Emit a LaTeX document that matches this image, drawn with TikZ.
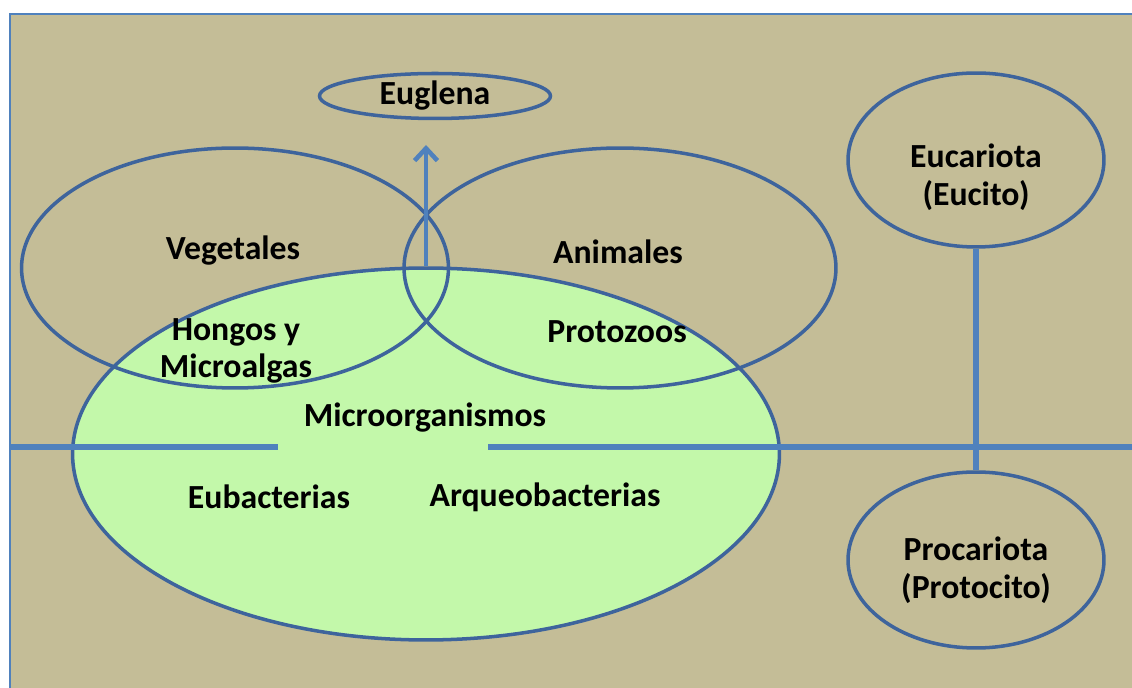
\documentclass[tikz,border=0pt]{standalone}
\usepackage{fontspec}
\setmainfont{Carlito}
\usetikzlibrary{shapes.geometric, arrows.meta, positioning}
\definecolor{paperTan}{HTML}{C4BD97}
\definecolor{lineBlue}{HTML}{4F81BD}
\definecolor{rimBlue}{HTML}{3E649C}
\definecolor{microGreen}{RGB}{195,248,170}
\tikzset{
	blob/.style={
		ellipse,
		draw=rimBlue,
		line width=2pt,
		inner sep=0pt,
	},
	tag/.style={
		font=\bfseries\fontsize{19.2}{21.5}\selectfont,
		align=center,
		inner sep=0pt,
	},
	divide/.style={
		draw=lineBlue,
		line width=3pt,
	},
	riseline/.style={
		-{Straight Barb[length=7pt,width=13pt]},
		draw=lineBlue,
		line width=2.6pt,
	}
}

\begin{document}
\begin{tikzpicture}[x=0.02cm, y=-0.02cm]
	\useasboundingbox (0,0) rectangle (1132,688);
	\clip (0,0) rectangle (1132,688);
	% --- Frame ---
	\draw[draw=lineBlue, line width=1.6pt, fill=paperTan] (10,14) rectangle (1150,710);
	
	% --- Ellipses (green one first, so the outlines lie on top) ---
	\node[blob, fill=microGreen, minimum width=14.14cm, minimum height=7.44cm] (micro) at (426,454) {};
	\node[blob, minimum width=8.54cm, minimum height=4.8cm] (veg) at (235,268) {};
	\node[blob, minimum width=8.64cm, minimum height=4.8cm] (ani) at (620,268) {};
	\node[blob, tag, minimum width=4.62cm, minimum height=0.9cm] (eug) at (435,96) {Euglena};
	\node[blob, minimum width=5.12cm, minimum height=3.48cm] (euc) at (976,160) {};
	\node[blob, minimum width=5.12cm, minimum height=3.52cm] (pro) at (976,560) {};
	
	% --- Labels ---
	\node[tag] (vegT) at (233,251) {Vegetales};
	\node[tag] (aniT) at (618,252) {Animales};
	\node[tag] (hongT) at (236,351) {Hongos y\\Microalgas};
	\node[tag] (protT) at (617,332) {Protozoos};
	\node[tag] (microT) at (425,418) {Microorganismos};
	\node[tag] (eubT) at (269,497) {Eubacterias};
	\node[tag] (arqT) at (545,497) {Arqueobacterias};
	\node[tag] (eucT) at (976,177) {Eucariota\\(Eucito)};
	\node[tag] (proT) at (976,570) {Procariota\\(Protocito)};
	
	% --- Lines ---
	\coordinate (wallL) at (10,447);
	\coordinate (gapL) at (278,447);
	\coordinate (gapR) at (488,447);
	\coordinate (wallR) at (1132,447);
	\coordinate (tip) at (426,145);
	\draw[divide] (wallL) -- (gapL);
	\draw[divide] (gapR) -- (wallR);
	\draw[divide] (euc.south) -- (pro.north);
	\draw[riseline] (micro.north) -- (tip);
\end{tikzpicture}
\end{document}
